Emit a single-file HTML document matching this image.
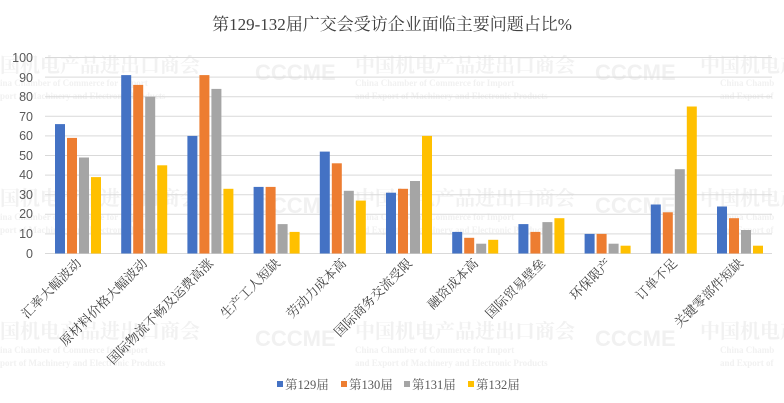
<!DOCTYPE html>
<html><head><meta charset="utf-8"><style>
html,body{margin:0;padding:0;background:#fff;}
svg{display:block;}
</style></head><body>
<svg width="784" height="403" viewBox="0 0 784 403" xmlns="http://www.w3.org/2000/svg">
<rect width="784" height="403" fill="#fff"/>
<g font-family="'Liberation Serif','Noto Serif CJK SC',serif" fill="#f1f1f1" font-weight="bold">
<g font-size="20"><text x="0" y="72">国机电产品进出口商会</text><text x="355" y="72">中国机电产品进出口商会</text><text x="700" y="72">中国机电产</text>
<text x="0" y="205">国机电产品进出口商会</text><text x="355" y="205">中国机电产品进出口商会</text><text x="700" y="205">中国机电产</text>
<text x="0" y="338">国机电产品进出口商会</text><text x="355" y="338">中国机电产品进出口商会</text><text x="700" y="338">中国机电产</text></g>
<g font-size="9"><text x="0" y="86">ina Chamber of Commerce for Import</text><text x="0" y="99">port of Machinery and Electronic Products</text>
<text x="355" y="86">China Chamber of Commerce for Import</text><text x="355" y="99">and Export of Machinery and Electronic Products</text>
<text x="0" y="220">ina Chamber of Commerce for Import</text><text x="0" y="233">port of Machinery and Electronic Products</text>
<text x="355" y="220">China Chamber of Commerce for Import</text><text x="355" y="233">and Export of Machinery and Electronic Products</text>
<text x="0" y="353">ina Chamber of Commerce for Import</text><text x="0" y="366">port of Machinery and Electronic Products</text>
<text x="355" y="353">China Chamber of Commerce for Import</text><text x="355" y="366">and Export of Machinery and Electronic Products</text>
<text x="720" y="86">China Chamb</text><text x="720" y="99">and Export of</text>
<text x="720" y="220">China Chamb</text><text x="720" y="233">and Export of</text>
<text x="720" y="353">China Chamb</text><text x="720" y="366">and Export of</text></g>
<g font-size="22" font-family="'Liberation Sans',sans-serif"><text x="255" y="80">CCCME</text><text x="255" y="213">CCCME</text><text x="255" y="346">CCCME</text><text x="595" y="80">CCCME</text><text x="595" y="213">CCCME</text><text x="595" y="346">CCCME</text></g>
</g>
<text x="392" y="30" text-anchor="middle" font-family="'Liberation Serif','Noto Serif CJK SC',serif" font-size="17" fill="#404040">第129-132届广交会受访企业面临主要问题占比%</text>
<g stroke="#d9d9d9" stroke-width="1">
<line x1="45" x2="772" y1="57.5" y2="57.5"/><line x1="45" x2="772" y1="77.1" y2="77.1"/><line x1="45" x2="772" y1="96.7" y2="96.7"/><line x1="45" x2="772" y1="116.3" y2="116.3"/><line x1="45" x2="772" y1="135.9" y2="135.9"/><line x1="45" x2="772" y1="155.5" y2="155.5"/><line x1="45" x2="772" y1="175.1" y2="175.1"/><line x1="45" x2="772" y1="194.7" y2="194.7"/><line x1="45" x2="772" y1="214.3" y2="214.3"/><line x1="45" x2="772" y1="233.9" y2="233.9"/><line x1="45" x2="772" y1="253.5" y2="253.5"/>
</g>
<g font-family="'Liberation Sans',sans-serif" font-size="12.5" fill="#595959" text-anchor="end">
<text x="33" y="62">100</text><text x="33" y="82">90</text><text x="33" y="101">80</text><text x="33" y="121">70</text><text x="33" y="140">60</text><text x="33" y="160">50</text><text x="33" y="179">40</text><text x="33" y="199">30</text><text x="33" y="218">20</text><text x="33" y="238">10</text><text x="33" y="258">0</text>
</g>
<g transform="translate(0,253.5) scale(1,-1)">
<g fill="#4472c4">
<rect x="55" y="0" width="10" height="129.4"/><rect x="121.2" y="0" width="10" height="178.4"/><rect x="187.4" y="0" width="10" height="117.6"/><rect x="253.6" y="0" width="10" height="66.6"/><rect x="319.8" y="0" width="10" height="101.9"/><rect x="386" y="0" width="10" height="60.8"/><rect x="452.2" y="0" width="10" height="21.6"/><rect x="518.4" y="0" width="10" height="29.4"/><rect x="584.6" y="0" width="10" height="19.6"/><rect x="650.8" y="0" width="10" height="49"/><rect x="717" y="0" width="10" height="47"/>
</g>
<g fill="#ed7d31">
<rect x="67" y="0" width="10" height="115.6"/><rect x="133.2" y="0" width="10" height="168.6"/><rect x="199.4" y="0" width="10" height="178.4"/><rect x="265.6" y="0" width="10" height="66.6"/><rect x="331.8" y="0" width="10" height="90.2"/><rect x="398" y="0" width="10" height="64.7"/><rect x="464.2" y="0" width="10" height="15.7"/><rect x="530.4" y="0" width="10" height="21.6"/><rect x="596.6" y="0" width="10" height="19.6"/><rect x="662.8" y="0" width="10" height="41.2"/><rect x="729" y="0" width="10" height="35.3"/>
</g>
<g fill="#a5a5a5">
<rect x="79" y="0" width="10" height="96"/><rect x="145.2" y="0" width="10" height="156.8"/><rect x="211.4" y="0" width="10" height="164.6"/><rect x="277.6" y="0" width="10" height="29.4"/><rect x="343.8" y="0" width="10" height="62.7"/><rect x="410" y="0" width="10" height="72.5"/><rect x="476.2" y="0" width="10" height="9.8"/><rect x="542.4" y="0" width="10" height="31.4"/><rect x="608.6" y="0" width="10" height="9.8"/><rect x="674.8" y="0" width="10" height="84.3"/><rect x="741" y="0" width="10" height="23.5"/>
</g>
<g fill="#ffc000">
<rect x="91" y="0" width="10" height="76.4"/><rect x="157.2" y="0" width="10" height="88.2"/><rect x="223.4" y="0" width="10" height="64.7"/><rect x="289.6" y="0" width="10" height="21.6"/><rect x="355.8" y="0" width="10" height="52.9"/><rect x="422" y="0" width="10" height="117.6"/><rect x="488.2" y="0" width="10" height="13.7"/><rect x="554.4" y="0" width="10" height="35.3"/><rect x="620.6" y="0" width="10" height="7.8"/><rect x="686.8" y="0" width="10" height="147"/><rect x="753" y="0" width="10" height="7.8"/>
</g>
</g>
<g font-family="'Liberation Serif','Noto Serif CJK SC',serif" font-size="13" fill="#404040" text-anchor="end">
<text transform="translate(82,264) rotate(-45)">汇率大幅波动</text>
<text transform="translate(148,264) rotate(-45)">原材料价格大幅波动</text>
<text transform="translate(214,264) rotate(-45)">国际物流不畅及运费高涨</text>
<text transform="translate(281,264) rotate(-45)">生产工人短缺</text>
<text transform="translate(347,264) rotate(-45)">劳动力成本高</text>
<text transform="translate(413,264) rotate(-45)">国际商务交流受限</text>
<text transform="translate(479,264) rotate(-45)">融资成本高</text>
<text transform="translate(546,264) rotate(-45)">国际贸易壁垒</text>
<text transform="translate(612,264) rotate(-45)">环保限产</text>
<text transform="translate(678,264) rotate(-45)">订单不足</text>
<text transform="translate(744,264) rotate(-45)">关键零部件短缺</text>
</g>
<g font-family="'Liberation Serif','Noto Serif CJK SC',serif" font-size="12.5" fill="#595959">
<rect x="277" y="381" width="6" height="6" fill="#4472c4"/><text x="285" y="389">第129届</text>
<rect x="341" y="381" width="6" height="6" fill="#ed7d31"/><text x="349" y="389">第130届</text>
<rect x="404" y="381" width="6" height="6" fill="#a5a5a5"/><text x="412" y="389">第131届</text>
<rect x="468" y="381" width="6" height="6" fill="#ffc000"/><text x="476" y="389">第132届</text>
</g>
</svg>
</body></html>
